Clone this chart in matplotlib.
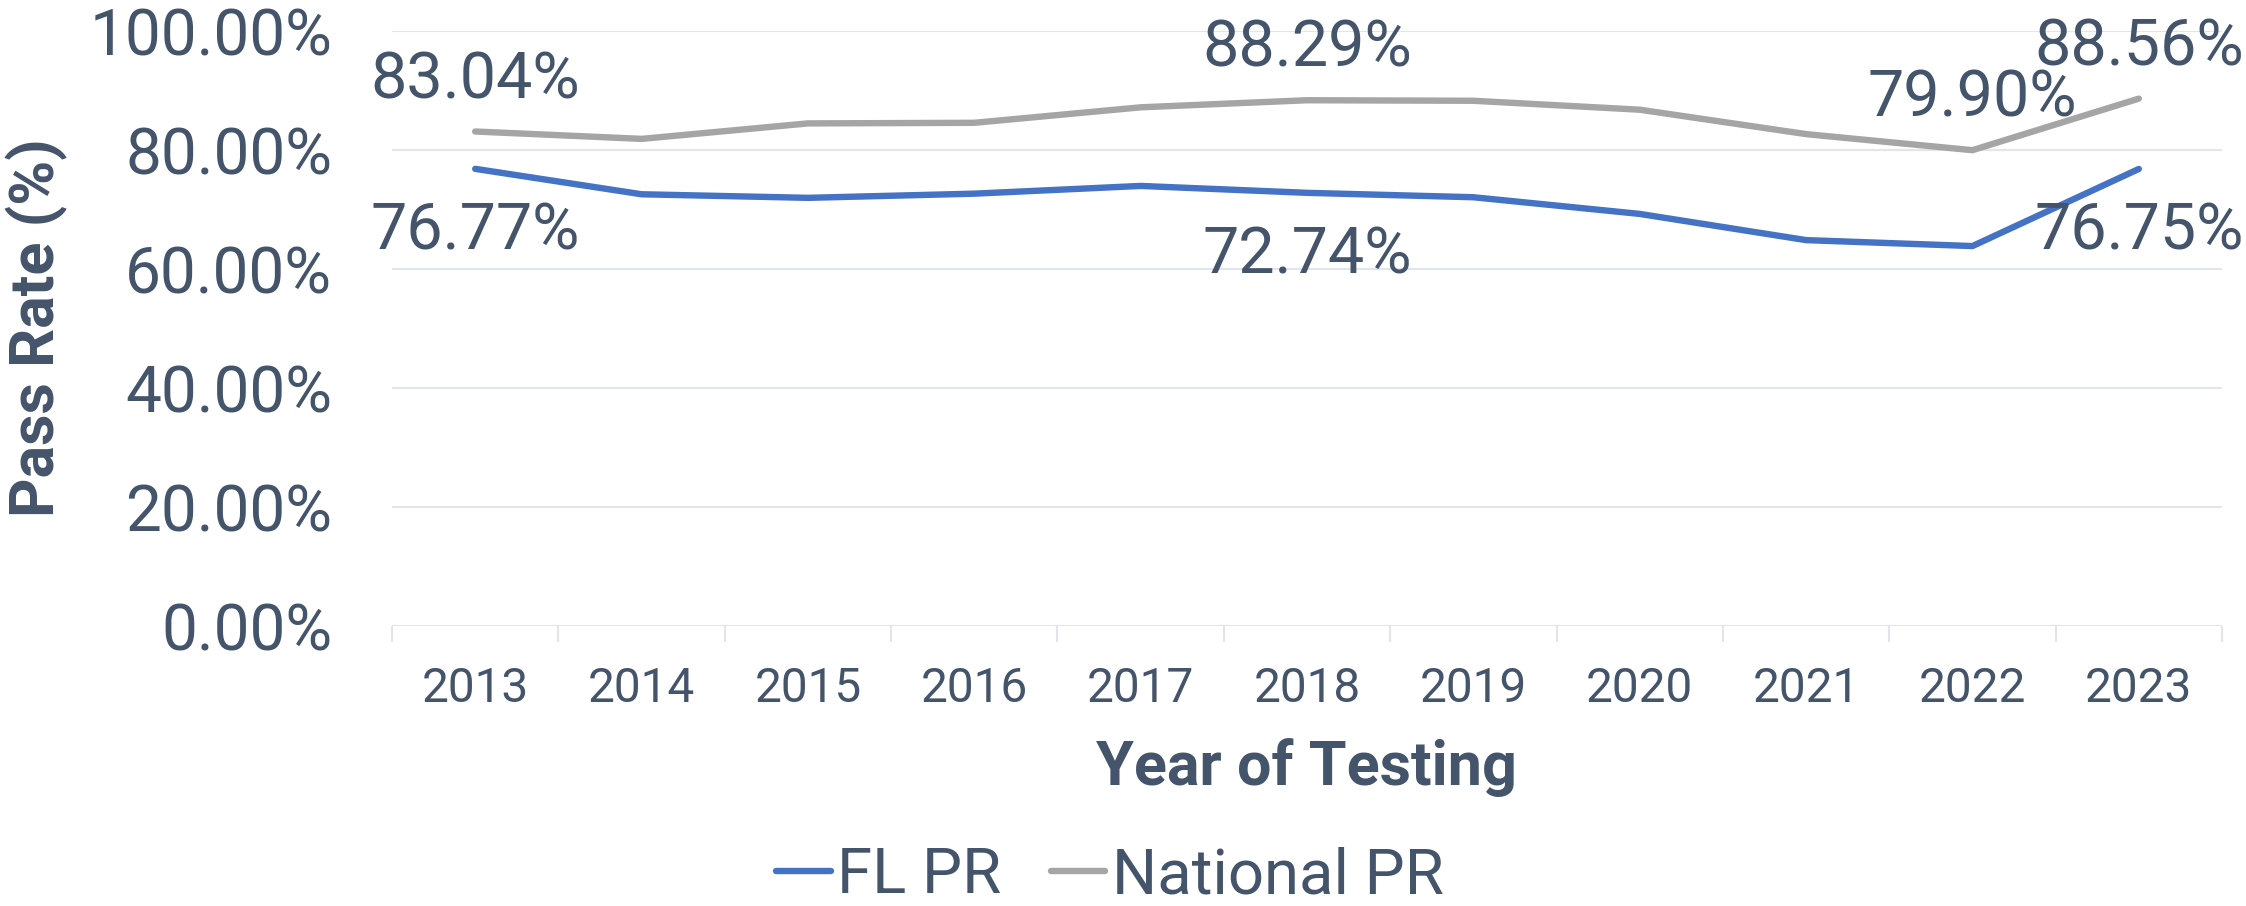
import matplotlib
matplotlib.use("Agg")
import matplotlib.pyplot as plt
from matplotlib.ticker import FixedLocator, FuncFormatter

years = ["2013", "2014", "2015", "2016", "2017", "2018", "2019", "2020", "2021", "2022", "2023"]
fl_pr = [76.77, 72.5, 71.9, 72.6, 73.9, 72.74, 72.0, 69.2, 64.8, 63.8, 76.75]
national_pr = [83.04, 81.8, 84.4, 84.5, 87.1, 88.29, 88.2, 86.7, 82.6, 79.90, 88.56]
y_ticks = [0, 20, 40, 60, 80, 100]
fl_label_idx = [0, 5, 10]
nat_label_idx = [0, 5, 9, 10]

TEXT = "#44546A"
GRID = "#E1E6EC"
BLUE = "#4472C4"
GRAY = "#A5A5A5"

plt.rcParams["font.family"] = ["Roboto", "DejaVu Sans"]

W, H = 2246, 906
fig = plt.figure(figsize=(W / 100, H / 100), dpi=100)
ax = fig.add_axes([392 / W, (H - 626) / H, 1830 / W, (626 - 30.5) / H])

x = list(range(len(years)))
ax.plot(x, fl_pr, color=BLUE, lw=4.6, solid_capstyle="round", solid_joinstyle="round", label="FL PR", zorder=3)
ax.plot(x, national_pr, color=GRAY, lw=4.6, solid_capstyle="round", solid_joinstyle="round", label="National PR", zorder=3)

ax.set_xlim(-0.5, len(years) - 0.5)
ax.set_ylim(0, 100)
ax.set_yticks(y_ticks)
ax.yaxis.set_major_formatter(FuncFormatter(lambda v, p: f"{v:.2f}%"))
ax.set_xticks(x)
ax.set_xticklabels(years)
ax.xaxis.set_minor_locator(FixedLocator([i - 0.5 for i in range(len(years) + 1)]))

for s in ax.spines.values():
    s.set_visible(False)
ax.yaxis.grid(True, color=GRID, lw=1.5, zorder=0)
ax.set_axisbelow(True)
ax.tick_params(axis="y", length=0, pad=43, labelsize=46, labelcolor=TEXT)
ax.tick_params(axis="x", which="major", length=0, pad=29, labelsize=34.4, labelcolor=TEXT)
ax.tick_params(axis="x", which="minor", length=11.5, width=1.5, color=GRID)

for i in nat_label_idx:
    ax.annotate(f"{national_pr[i]:.2f}%", (i, national_pr[i]), xytext=(0, 24),
                textcoords="offset points", ha="center", va="baseline",
                fontsize=46.5, color=TEXT, zorder=4)
for i in fl_label_idx:
    ax.annotate(f"{fl_pr[i]:.2f}%", (i, fl_pr[i]), xytext=(0, -58),
                textcoords="offset points", ha="center", va="baseline",
                fontsize=46.5, color=TEXT, zorder=4)

fig.text(37 / W, 1 - 328 / H, "Pass Rate (%)", rotation=90, ha="center", va="center",
         fontsize=44, fontweight="bold", color=TEXT)
fig.text(1307 / W, 1 - 785 / H, "Year of Testing", ha="center", va="baseline",
         fontsize=44, fontweight="bold", color=TEXT)

leg = fig.legend(loc="center", bbox_to_anchor=(1110 / W, 1 - 876 / H), ncol=2, frameon=False,
                 fontsize=45.6, handlelength=0.86, handletextpad=0.1, columnspacing=0.78,
                 borderpad=0, borderaxespad=0)
for t in leg.get_texts():
    t.set_color(TEXT)
for h in leg.legend_handles:
    h.set_linewidth(4.6)
    h.set_solid_capstyle("round")

fig.savefig("out.png", dpi=100)
